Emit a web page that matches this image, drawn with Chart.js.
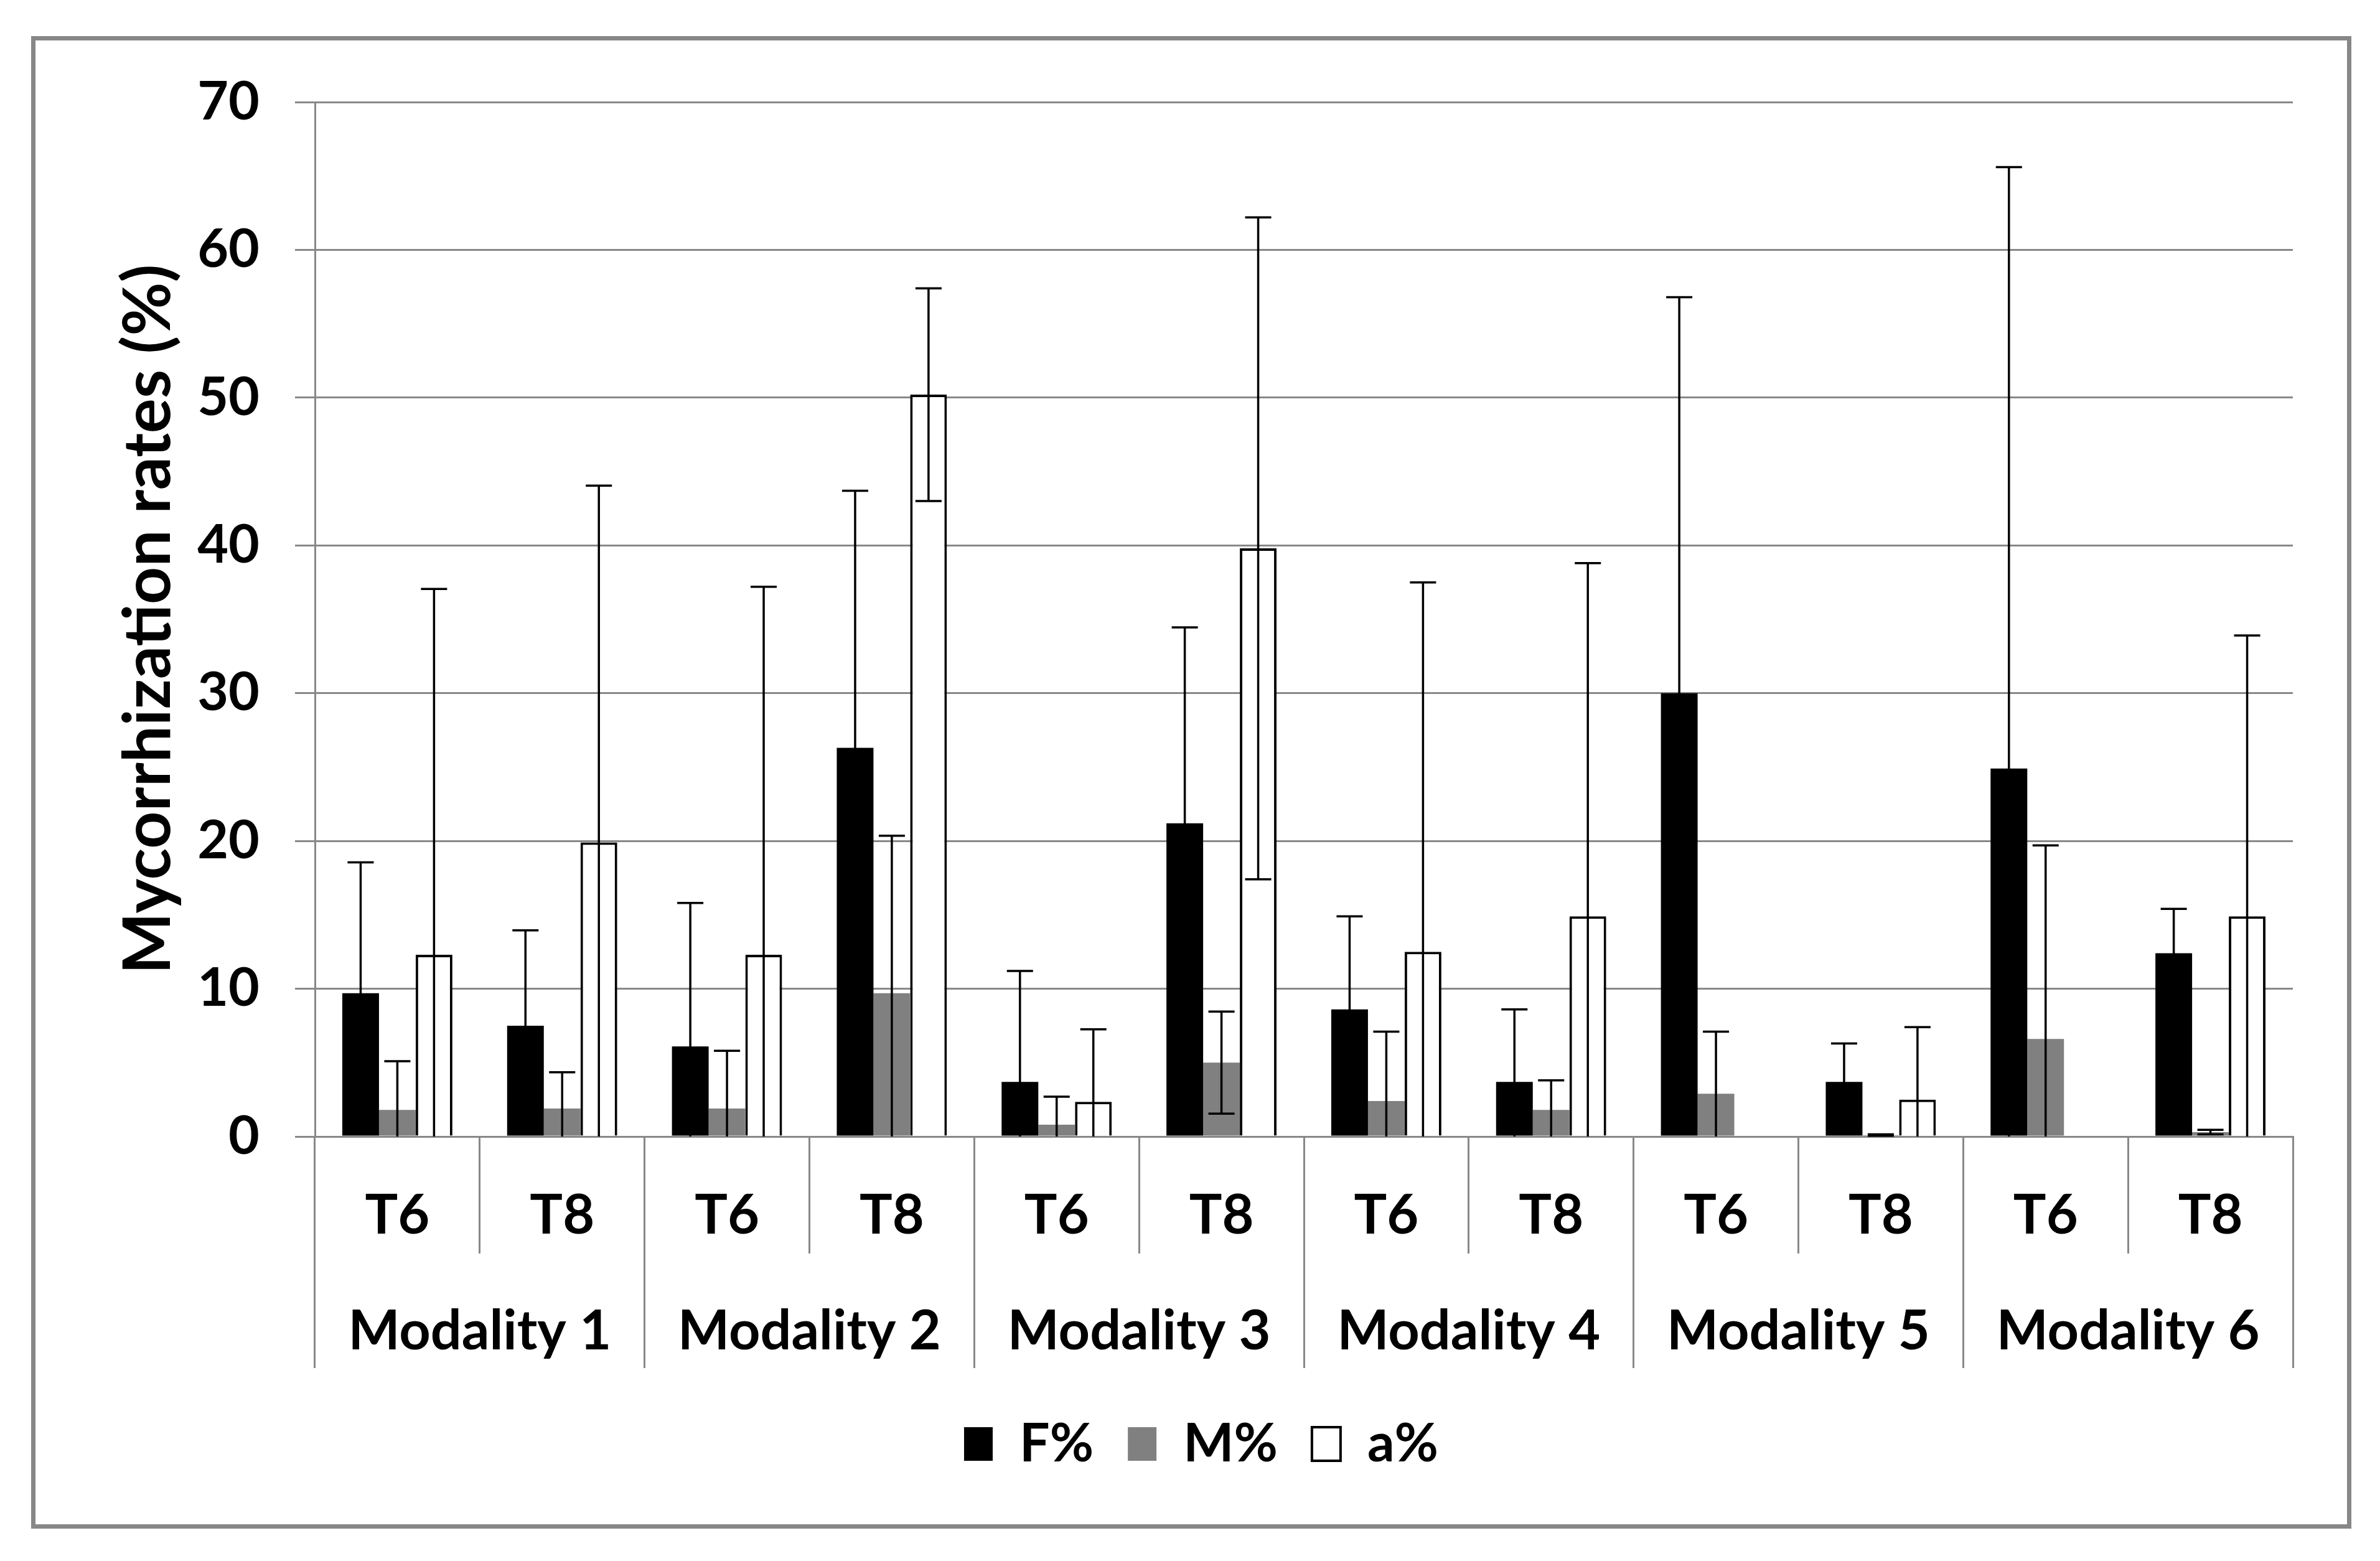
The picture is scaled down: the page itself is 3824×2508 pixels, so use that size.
<!DOCTYPE html>
<html>
<head>
<meta charset="utf-8">
<script src="https://cdn.jsdelivr.net/npm/chart.js@4.4.1/dist/chart.umd.min.js"></script>
<style>
  html, body { margin: 0; padding: 0; background: #fff; }
  #frame { position: absolute; left: 50px; top: 58px; width: 3714px; height: 2384px; border: 7px solid #878787; background: #fff; }
  canvas { display: block; }
</style>
</head>
<body>
<div id="frame"><canvas id="chart" width="3714" height="2384"></canvas></div>
<script>
// categories
const times = ['T6', 'T8', 'T6', 'T8', 'T6', 'T8', 'T6', 'T8', 'T6', 'T8', 'T6', 'T8'];
const modalities = ['Modality 1', 'Modality 2', 'Modality 3', 'Modality 4', 'Modality 5', 'Modality 6'];

// series values (%) and standard deviations
const fValues = [9.7, 7.5, 6.1, 26.3, 3.7, 21.2, 8.6, 3.7, 30.0, 3.7, 24.9, 12.4];
const fErrors = [8.85, 6.45, 9.7, 17.4, 7.5, 13.25, 6.3, 4.9, 26.8, 2.6, 40.7, 3.0];
const mValues = [1.8, 1.9, 1.9, 9.7, 0.8, 5.0, 2.4, 1.8, 2.9, 0.1, 6.6, 0.3];
const mErrors = [3.3, 2.45, 3.9, 10.65, 1.9, 3.45, 4.7, 2.0, 4.2, 0.05, 13.1, 0.15];
const aValues = [12.3, 19.9, 12.3, 50.2, 2.35, 39.8, 12.5, 14.9, 0, 2.5, 0, 14.9];
const aErrors = [24.75, 24.15, 24.9, 7.2, 4.9, 22.4, 25.0, 23.9, 0, 4.9, 0, 19.0];

const yTicks = [0, 10, 20, 30, 40, 50, 60, 70];

const GRID = '#888888';

// draws +/- error bars, clipped at zero (no cap when clipped)
const errorBars = {
  id: 'errorBars',
  afterDatasetsDraw(chart) {
    const ctx = chart.ctx;
    const y = chart.scales.y;
    ctx.save();
    ctx.strokeStyle = '#000';
    ctx.lineWidth = 3.5;
    chart.data.datasets.forEach((ds, i) => {
      const meta = chart.getDatasetMeta(i);
      meta.data.forEach((bar, j) => {
        const v = ds.data[j], e = ds.errors[j];
        if (!e) return;
        const low = v - e;
        const top = y.getPixelForValue(v + e);
        const bottom = y.getPixelForValue(Math.max(0, low));
        ctx.beginPath();
        ctx.moveTo(bar.x, top);
        ctx.lineTo(bar.x, bottom);
        ctx.moveTo(bar.x - 21, top);
        ctx.lineTo(bar.x + 21, top);
        if (low > 0) {
          ctx.moveTo(bar.x - 21, bottom);
          ctx.lineTo(bar.x + 21, bottom);
        }
        ctx.stroke();
      });
    });
    ctx.restore();
  }
};

Chart.defaults.font.family = 'Lato';
Chart.defaults.font.weight = 'bold';
Chart.defaults.color = '#000';

new Chart(document.getElementById('chart'), {
  type: 'bar',
  data: {
    labels: times,
    datasets: [
      { label: 'F%', data: fValues, errors: fErrors, backgroundColor: '#000000', borderWidth: 0 },
      { label: 'M%', data: mValues, errors: mErrors, backgroundColor: '#808080', borderWidth: 0 },
      { label: 'a%', data: aValues, errors: aErrors, backgroundColor: '#ffffff', borderColor: '#000000', borderWidth: 4 }
    ]
  },
  options: {
    responsive: false,
    animation: false,
    devicePixelRatio: 1,
    layout: { padding: { left: 119, right: 87, top: 99, bottom: 76 } },
    datasets: { bar: { barPercentage: 1, categoryPercentage: 0.668 } },
    plugins: {
      tooltip: { enabled: false },
      legend: {
        position: 'bottom',
        labels: { font: { size: 86, weight: 'bold' }, color: '#000', boxWidth: 46, boxHeight: 54, padding: 55 }
      }
    },
    scales: {
      y: {
        min: 0,
        max: 70,
        afterBuildTicks(s) { s.ticks = yTicks.map(v => ({ value: v })); },
        afterFit(s) { s.width = 330; s.paddingTop = 0; s.paddingBottom = 0; },
        ticks: { padding: 57, font: { size: 86, weight: 'bold' }, color: '#000' },
        grid: { color: GRID, lineWidth: 3, tickLength: 32 },
        border: { color: GRID, width: 3 },
        title: {
          display: true,
          text: 'Mycorrhization rates (%)',
          color: '#000',
          font: { size: 105, weight: 'bold', lineHeight: 1.2 },
          padding: { top: 0, bottom: 0 }
        }
      },
      x: {
        position: 'bottom',
        afterFit(s) { s.height = 174; },
        ticks: { padding: -113, font: { size: 88, weight: 'bold' }, color: '#000', maxRotation: 0, autoSkip: false },
        grid: { offset: true, drawOnChartArea: false, color: GRID, lineWidth: 3, tickLength: 188 },
        border: { color: GRID, width: 3 }
      },
      x2: {
        type: 'category',
        position: 'bottom',
        labels: modalities,
        offset: true,
        afterFit(s) { s.height = 222; },
        ticks: { padding: -111, font: { size: 88, weight: 'bold' }, color: '#000', maxRotation: 0, autoSkip: false },
        grid: { offset: true, drawOnChartArea: false, color: GRID, lineWidth: 3, tickLength: 198 },
        border: { display: false }
      }
    }
  },
  plugins: [errorBars]
});
</script>
</body>
</html>
